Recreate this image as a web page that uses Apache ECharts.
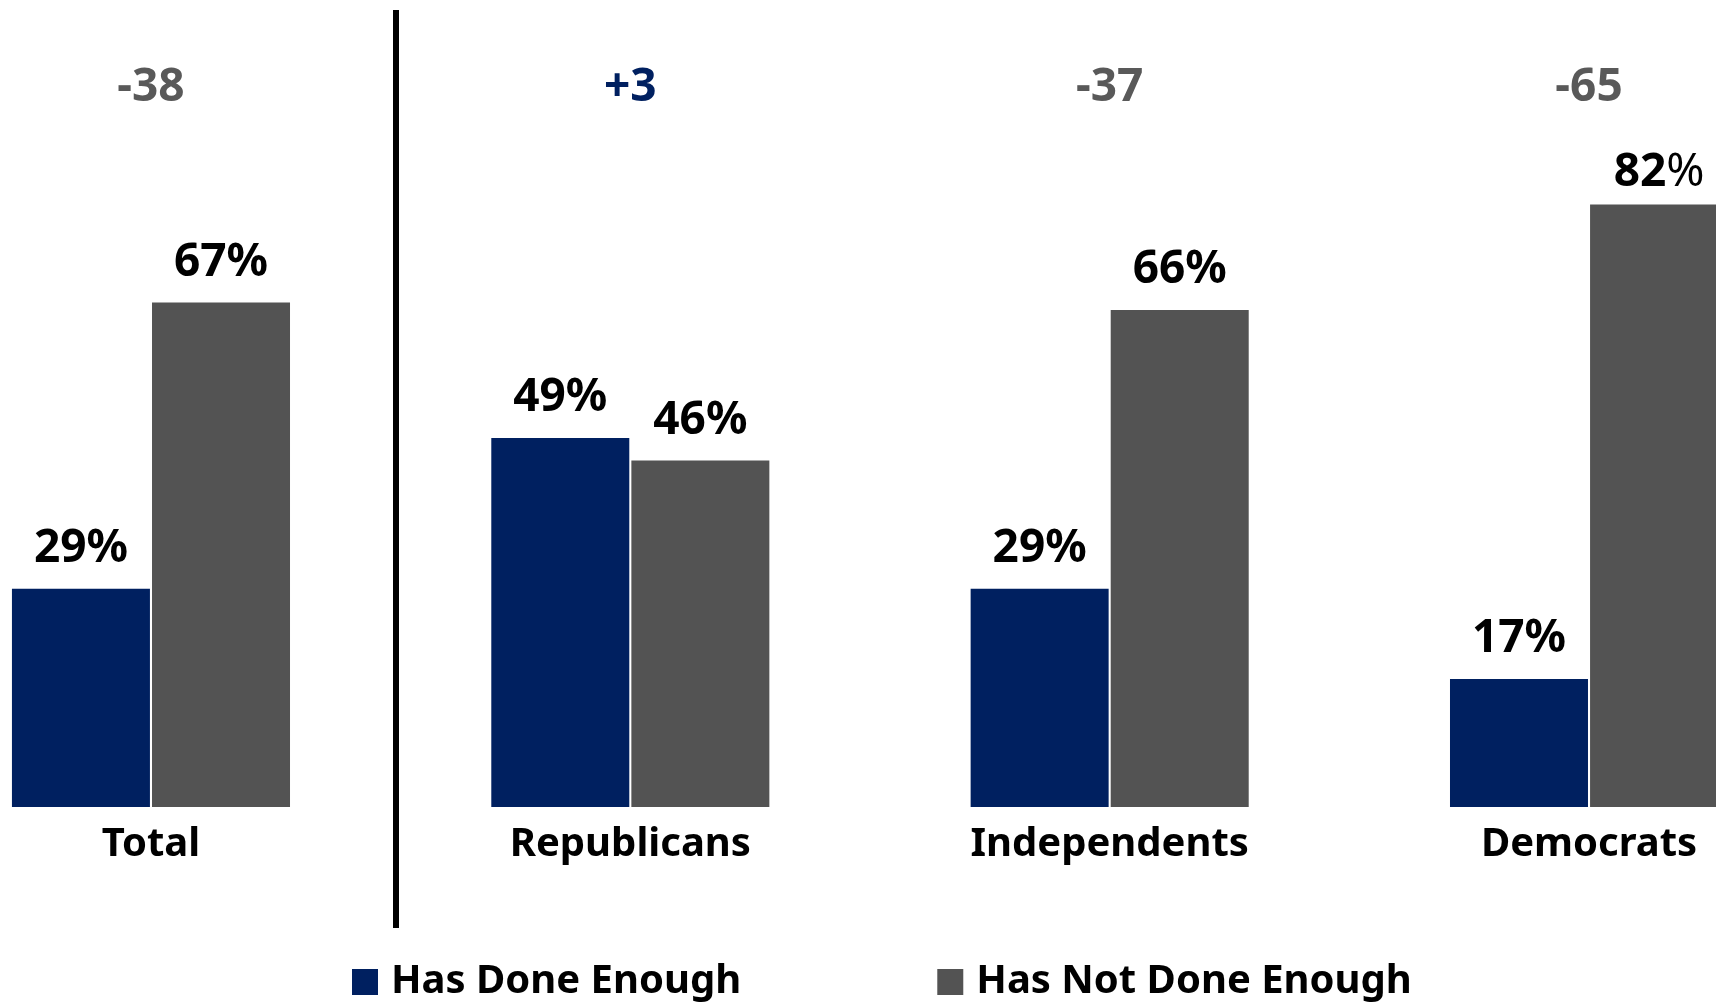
<!DOCTYPE html>
<html>
<head>
<meta charset="utf-8">
<script src="https://cdn.jsdelivr.net/npm/echarts@6/dist/echarts.min.js"></script>
<style>
html,body{margin:0;padding:0;background:#fff;}
#c{width:1716px;height:1004px;}
</style>
</head>
<body>
<div id="c"></div>
<script>
const categories = ['Total', 'Republicans', 'Independents', 'Democrats'];
const hasDone = [29, 49, 29, 17];
// bar heights as drawn in the picture (the Democrats bar is drawn at ~80 though labelled 82%)
const hasNotDone = [67, 46, 66, 80];
const hasDoneLabels = ['29', '49', '29', '17'];
const hasNotDoneLabels = ['67', '46', '66', '82'];
const netDiff = ['-38', '+3', '-37', '-65'];
const seriesNames = ['Has Done Enough', 'Has Not Done Enough'];

const NAVY = '#002060';
const GRAY = '#535353';
const FONT = '"Noto Sans", sans-serif';
const DIFF_Y = 95.5;

const chart = echarts.init(document.getElementById('c'), null, {renderer: 'canvas'});

const pctLabel = {
  show: true,
  position: 'top',
  distance: 17,
  fontFamily: FONT,
  fontSize: 46,
  fontWeight: 'bold',
  color: '#000'
};

const option = {
  animation: false,
  backgroundColor: '#fff',
  textStyle: {fontFamily: FONT},
  grid: {left: -88.7, right: -112.7, top: 54, bottom: 197, containLabel: false, outerBoundsMode: 'none'},
  legend: {
    data: seriesNames,
    left: 352,
    top: 962,
    padding: 0,
    itemWidth: 26,
    itemHeight: 26,
    itemGap: 196,
    icon: 'rect',
    textStyle: {fontFamily: FONT, fontSize: 40, fontWeight: 'bold', color: '#000', padding: [0, 0, 0, 8]}
  },
  xAxis: {
    type: 'category',
    data: categories,
    axisLine: {show: false},
    axisTick: {show: false},
    axisLabel: {fontFamily: FONT, fontSize: 40, fontWeight: 'bold', color: '#000', margin: 18}
  },
  yAxis: {
    type: 'value',
    min: 0,
    max: 100,
    show: false,
    splitLine: {show: false}
  },
  series: [
    {
      name: seriesNames[0],
      type: 'bar',
      data: hasDone,
      barWidth: 138,
      barGap: '1.5%',
      itemStyle: {color: NAVY},
      label: Object.assign({}, pctLabel, {formatter: p => hasDoneLabels[p.dataIndex] + '%'})
    },
    {
      name: seriesNames[1],
      type: 'bar',
      data: hasNotDone.map((v, i) => (i === 3 ? {value: v, label: {distance: 9}} : v)),
      barWidth: 138,
      itemStyle: {color: GRAY},
      label: Object.assign({}, pctLabel, {
        formatter: p => (p.dataIndex === 3
          ? '{b|' + hasNotDoneLabels[p.dataIndex] + '}{n|%}'
          : hasNotDoneLabels[p.dataIndex] + '%'),
        rich: {
          b: {fontFamily: FONT, fontSize: 46, fontWeight: 'bold', color: '#000'},
          n: {fontFamily: FONT, fontSize: 46, fontWeight: 'normal', color: '#000'}
        }
      })
    },
    {
      name: 'diff',
      type: 'scatter',
      symbolSize: 0,
      silent: true,
      itemStyle: {opacity: 1},
      data: netDiff.map((d, i) => [categories[i], DIFF_Y]),
      label: {
        show: true,
        position: 'inside',
        fontFamily: FONT,
        fontSize: 46,
        fontWeight: 'bold',
        formatter: p => (netDiff[p.dataIndex].startsWith('+') ? '{p|' : '{m|') + netDiff[p.dataIndex] + '}',
        rich: {
          p: {fontFamily: FONT, fontSize: 46, fontWeight: 'bold', color: NAVY},
          m: {fontFamily: FONT, fontSize: 46, fontWeight: 'bold', color: '#595959'}
        }
      }
    }
  ]
};

chart.setOption(option);

// divider line between Total and the party groups
const x0 = chart.convertToPixel({xAxisIndex: 0}, categories[0]);
const x1 = chart.convertToPixel({xAxisIndex: 0}, categories[1]);
const xm = Math.round((x0 + x1) / 2) + 5;
chart.setOption({
  graphic: [{
    type: 'line',
    shape: {x1: xm, y1: 10, x2: xm, y2: 928},
    style: {stroke: '#000', lineWidth: 6}
  }]
});
</script>
</body>
</html>
